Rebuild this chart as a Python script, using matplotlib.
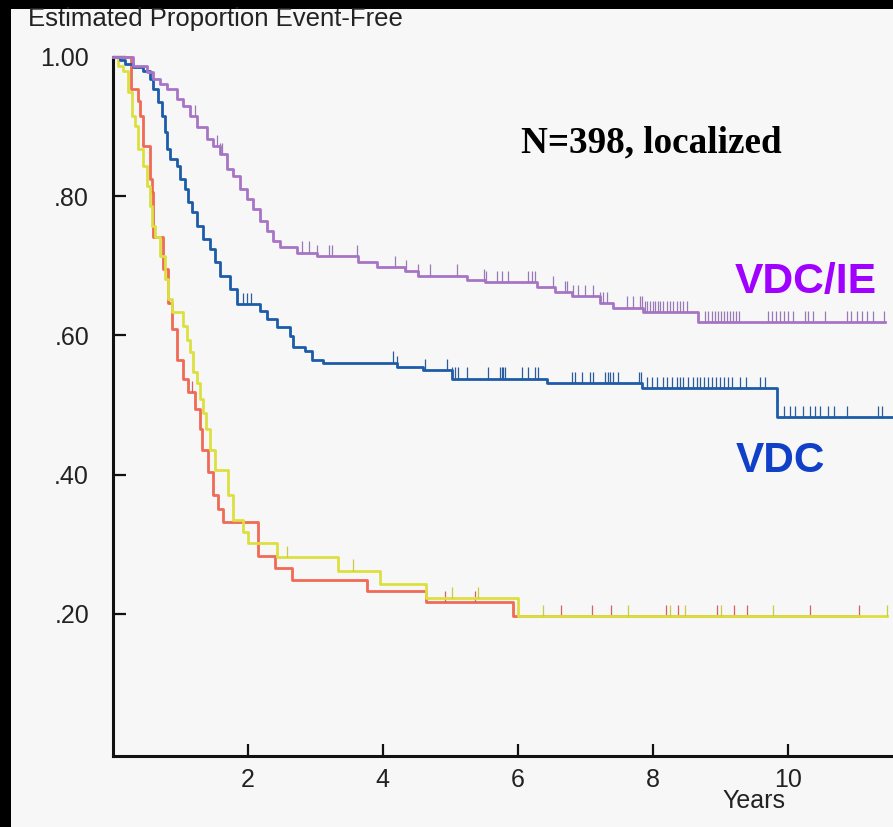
import numpy as np
import matplotlib.pyplot as plt
from matplotlib.patches import Rectangle

plt.rcParams['font.family'] = ['Liberation Sans', 'DejaVu Sans']

# Kaplan-Meier steps: time in years, proportion event-free after each drop
red_t = [0, 0.27, 0.375, 0.40, 0.45, 0.55, 0.58, 0.60, 0.745, 0.82, 0.88, 0.95, 1.04, 1.12,
         1.22, 1.29, 1.32, 1.41, 1.49, 1.56, 1.63, 2.15, 2.40, 2.66, 3.77, 4.64, 5.93, 11.06]
red_s = [1.0, 0.954, 0.937, 0.915, 0.872, 0.824, 0.806, 0.742, 0.695, 0.647, 0.609, 0.565, 0.537, 0.518,
         0.494, 0.465, 0.436, 0.403, 0.371, 0.350, 0.332, 0.283, 0.266, 0.249, 0.233, 0.217, 0.197, 0.197]
red_cens = [1.18, 4.92, 5.37, 6.64, 7.10, 7.38, 8.20, 8.38, 8.95, 9.20, 9.40, 10.33, 11.06]

yellow_t = [0, 0.08, 0.15, 0.23, 0.29, 0.33, 0.37, 0.45, 0.51, 0.55, 0.58, 0.63, 0.70, 0.77, 0.82, 0.88,
            1.04, 1.10, 1.15, 1.19, 1.25, 1.29, 1.34, 1.38, 1.44, 1.52, 1.71, 1.78, 1.93, 2.01, 2.44,
            3.34, 3.96, 4.64, 6.01, 11.47]
yellow_s = [1.0, 0.987, 0.980, 0.950, 0.915, 0.901, 0.868, 0.843, 0.814, 0.786, 0.757, 0.742, 0.714, 0.681,
            0.652, 0.633, 0.613, 0.594, 0.576, 0.547, 0.532, 0.508, 0.489, 0.465, 0.436, 0.407, 0.371,
            0.335, 0.317, 0.302, 0.282, 0.262, 0.243, 0.222, 0.197, 0.197]
yellow_cens = [2.58, 3.56, 5.03, 5.41, 6.37, 7.63, 8.26, 8.48, 9.01, 9.78, 11.47]

purple_t = [0, 0.30, 0.51, 0.60, 0.70, 0.80, 0.95, 1.04, 1.15, 1.25, 1.40, 1.49, 1.59, 1.69, 1.78, 1.89,
            1.99, 2.08, 2.18, 2.28, 2.37, 2.48, 2.73, 3.03, 3.63, 3.92, 4.33, 4.52, 5.25, 5.52, 6.29,
            6.55, 6.81, 7.22, 7.41, 7.86, 8.67, 11.44]
purple_s = [1.0, 0.987, 0.978, 0.968, 0.961, 0.954, 0.940, 0.930, 0.915, 0.899, 0.882, 0.872, 0.860, 0.839,
            0.829, 0.810, 0.796, 0.781, 0.764, 0.750, 0.735, 0.727, 0.719, 0.714, 0.705, 0.698, 0.692,
            0.686, 0.679, 0.676, 0.669, 0.662, 0.656, 0.647, 0.640, 0.633, 0.619, 0.619]
purple_cens = [1.22, 1.55, 1.59, 1.62, 2.80, 2.91, 3.03, 3.20, 3.25, 3.62, 4.18, 4.35, 4.52, 4.70, 5.10,
               5.50, 5.53, 5.69, 5.77, 5.86, 6.15, 6.21, 6.26, 6.52, 6.70, 6.73, 6.82, 6.89, 7.00, 7.11,
               7.22, 7.26, 7.32, 7.62, 7.71, 7.81, 7.84, 7.89, 7.92, 7.96, 8.00, 8.03, 8.08, 8.11, 8.15,
               8.21, 8.26, 8.30, 8.36, 8.40, 8.45, 8.51, 8.78, 8.82, 8.88, 8.92, 8.97, 9.01, 9.06, 9.10,
               9.15, 9.19, 9.24, 9.28, 9.71, 9.77, 9.83, 9.89, 9.95, 10.00, 10.08, 10.25, 10.30, 10.37,
               10.55, 10.88, 10.94, 11.03, 11.10, 11.17, 11.26, 11.43]

blue_t = [0, 0.11, 0.18, 0.30, 0.45, 0.55, 0.60, 0.67, 0.73, 0.77, 0.80, 0.85, 0.95, 1.00, 1.07, 1.12,
          1.17, 1.25, 1.34, 1.44, 1.52, 1.59, 1.74, 1.84, 2.18, 2.29, 2.43, 2.63, 2.67, 2.85, 2.95, 3.12,
          4.21, 4.60, 5.03, 6.43, 7.84, 9.84, 11.6]
blue_s = [1.0, 0.995, 0.990, 0.986, 0.980, 0.968, 0.954, 0.935, 0.915, 0.892, 0.868, 0.853, 0.843, 0.824,
          0.810, 0.791, 0.777, 0.757, 0.738, 0.724, 0.705, 0.685, 0.666, 0.645, 0.635, 0.623, 0.612,
          0.599, 0.583, 0.577, 0.565, 0.561, 0.555, 0.550, 0.538, 0.531, 0.524, 0.483, 0.483]
blue_cens = [1.93, 1.99, 2.05, 4.15, 4.21, 4.63, 4.95, 5.03, 5.07, 5.12, 5.25, 5.56, 5.74, 5.77, 5.78,
             5.81, 6.06, 6.15, 6.26, 6.30, 6.80, 6.85, 6.95, 7.07, 7.11, 7.29, 7.34, 7.37, 7.41, 7.49,
             7.80, 7.83, 7.92, 7.99, 8.06, 8.15, 8.21, 8.29, 8.36, 8.40, 8.45, 8.52, 8.60, 8.66, 8.70,
             8.76, 8.82, 8.88, 8.94, 9.00, 9.06, 9.11, 9.17, 9.29, 9.38, 9.59, 9.66, 9.94, 10.03, 10.11,
             10.23, 10.33, 10.41, 10.48, 10.59, 10.68, 10.88, 11.34, 11.40]

ytick_vals = [0.2, 0.4, 0.6, 0.8, 1.0]
ytick_labels = ['.20', '.40', '.60', '.80', '1.00']
xtick_vals = [2, 4, 6, 8, 10]


def km(ax, t, s, cens, color, tick_color, z):
    t = np.array(t)
    s = np.array(s)
    ax.step(t, s, where='post', color=color, lw=2.0, zorder=z, clip_on=False)
    c = np.array(cens)
    lvl = s[np.searchsorted(t, c, side='right') - 1]
    ax.vlines(c, lvl, lvl + 0.016, color=tick_color, lw=0.9, zorder=z)


fig = plt.figure(figsize=(8.93, 8.27), dpi=100, facecolor='black')
fig.add_artist(Rectangle((11 / 893, 0), 1, 1 - 9 / 827, transform=fig.transFigure,
                         facecolor='#f7f7f7', edgecolor='none', zorder=0))

ax = fig.add_axes([0.1262, 0.0859, 0.8738, 0.8452])
ax.set_facecolor('none')
ax.set_xlim(0, 11.56)
ax.set_ylim(-0.0043, 1.0)

km(ax, red_t, red_s, red_cens, '#f06a55', '#d86060', 3)
km(ax, yellow_t, yellow_s, yellow_cens, '#dbe040', '#c8cc40', 4)
km(ax, blue_t, blue_s, blue_cens, '#1c5ca8', '#2a5c9c', 5)
km(ax, purple_t, purple_s, purple_cens, '#a874c6', '#9a78b8', 6)

for side in ['top', 'right']:
    ax.spines[side].set_visible(False)
for side in ['left', 'bottom']:
    ax.spines[side].set_linewidth(2.2)
    ax.spines[side].set_color('#111111')

ax.set_xticks(xtick_vals)
ax.set_yticks(ytick_vals)
ax.set_yticklabels(ytick_labels)
ax.tick_params(direction='in', length=9, width=1.6, labelsize=18, colors='#111111',
               labelcolor='#222222')
ax.tick_params(axis='y', pad=17)
ax.tick_params(axis='x', pad=9)

fig.text(28 / 893, 1 - 19 / 827, 'Estimated Proportion Event-Free', fontsize=18.5,
         color='#222222', va='center', ha='left')
fig.text(754 / 893, 1 - 801 / 827, 'Years', fontsize=18, color='#222222', va='center', ha='center')

fig.text(521 / 893, 1 - 152 / 827, 'N=398, localized', fontsize=26.7, fontweight='bold',
         family=['Liberation Serif', 'DejaVu Serif'], color='black', va='baseline')
fig.text(735 / 893, 1 - 293 / 827, 'VDC/IE', fontsize=30.7, fontweight='bold', color='#a000ff',
         va='baseline')
fig.text(736 / 893, 1 - 472 / 827, 'VDC', fontsize=30.5, fontweight='bold', color='#1040c8',
         va='baseline')

fig.savefig('out.png', dpi=100, facecolor=fig.get_facecolor())
